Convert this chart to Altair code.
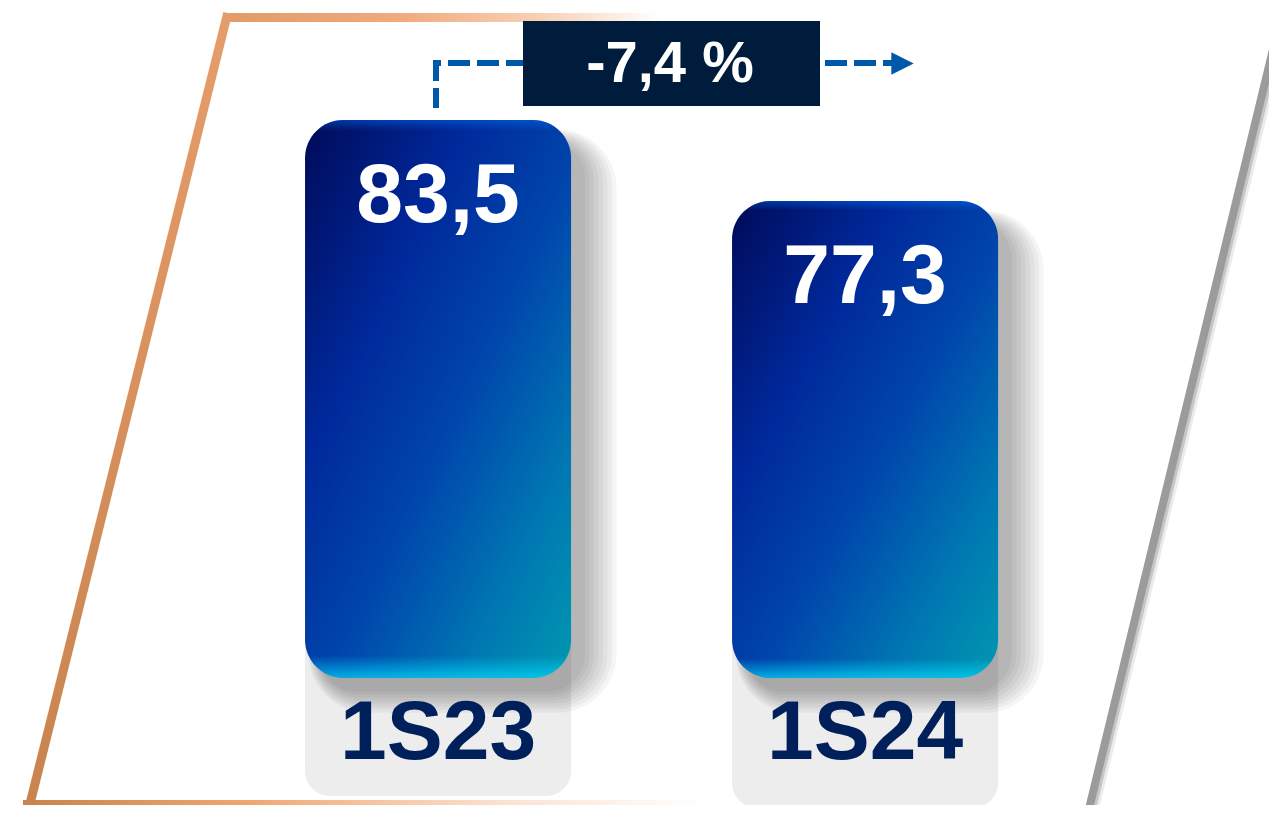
import altair as alt
import pandas as pd

# ---------------- data ----------------
categories = ["1S23", "1S24"]
values = [83.5, 77.3]
change_label = "-7,4 %"

value_labels = [f"{v:.1f}".replace(".", ",") for v in values]
df = pd.DataFrame({"periodo": categories, "valor": values, "etiqueta": value_labels})

W, H = 1261, 797
FONT = "Liberation Sans"
Y_MIN, Y_MAX = 31.07, 92.07          # value axis range (truncated, as in the original)
BASE = 40.8                          # bars start from this axis value

x_enc = alt.X("periodo:N", axis=None, sort=categories,
              scale=alt.Scale(paddingInner=0.377, paddingOuter=0.665, align=0.523))
y_enc = alt.Y("valor:Q", axis=None,
              scale=alt.Scale(domain=[Y_MIN, Y_MAX], zero=False, nice=False))

base = alt.Chart(df)
one = alt.Chart(alt.Data(values=[{"k": 1}]))


def grad(stops, x1=0, y1=0, x2=0, y2=1):
    return {"gradient": "linear", "x1": x1, "y1": y1, "x2": x2, "y2": y2,
            "stops": [{"offset": o, "color": c} for o, c in stops]}


layers = []

# ---------------- frame ----------------
for off, wdt, col in [(7, 6, "#EBEBEB"), (4, 6, "#C6C6C6")]:
    layers.append(one.mark_rule(strokeWidth=wdt, color=col, strokeCap="butt").encode(
        x=alt.value(1269 + off), y=alt.value(25), x2=alt.value(1080 + off), y2=alt.value(805)))
layers.append(one.mark_rule(strokeWidth=8, color="#9B9B9B", strokeCap="butt").encode(
    x=alt.value(1269), y=alt.value(25), x2=alt.value(1080), y2=alt.value(805)))

layers.append(one.mark_rect(fill=grad([(0, "#E39A68"), (0.4, "#F1AA7C"), (0.72, "#F8D0B4"), (1, "#FFFFFF")],
                                      x2=1, y2=0)).encode(
    x=alt.value(215), x2=alt.value(655), y=alt.value(5), y2=alt.value(14)))
layers.append(one.mark_rect(fill=grad([(0, "#C8834F"), (0.33, "#F0A672"), (0.5, "#F6C29E"),
                                       (0.72, "#FBE4D4"), (1, "#FFFFFF")], x2=1, y2=0)).encode(
    x=alt.value(15), x2=alt.value(700), y=alt.value(792), y2=alt.value(805)))
layers.append(one.mark_rule(strokeWidth=9, strokeCap="butt",
                            stroke=grad([(0, "#E59D6B"), (1, "#C8834F")])).encode(
    x=alt.value(219.7), y=alt.value(5), x2=alt.value(19.7), y2=alt.value(805)))

# ---------------- label boxes ----------------
for cat, bottom in [(categories[0], 788), (categories[1], 800)]:
    layers.append(base.transform_filter(alt.datum.periodo == cat).mark_rect(
        fill="#EDEDED", cornerRadius=25).encode(
        x=x_enc, y=alt.value(600), y2=alt.value(bottom)))

# ---------------- bar shadows ----------------
for s in range(0, 24, 3):
    layers.append(base.mark_bar(fill="black", opacity=0.04, cornerRadius=38 + s,
                                width=266 + 2 * s, xOffset=14 + 0.5 * s,
                                yOffset=20 - 0.5 * s, y2Offset=14 + s).encode(
        x=x_enc, y=y_enc, y2=alt.datum(BASE)))

# ---------------- bars ----------------
bar_grad = grad([(0, "#000A58"), (0.3, "#00289A"), (0.55, "#0046AC"), (0.8, "#0078B2"), (1, "#0098B0")],
                x2=1, y2=1)
layers.append(base.mark_bar(fill=bar_grad, cornerRadius=38).encode(
    x=x_enc, y=y_enc, y2=alt.datum(BASE)))
bevel = grad([(0, "rgba(0,120,255,0.4)"), (0.02, "rgba(0,120,255,0)"),
              (0.96, "rgba(0,210,255,0)"), (1, "rgba(0,220,255,0.7)")])
layers.append(base.mark_bar(fill=bevel, cornerRadius=38).encode(
    x=x_enc, y=y_enc, y2=alt.datum(BASE)))

# ---------------- value labels ----------------
layers.append(base.mark_text(font=FONT, fontSize=84, fontWeight="bold", color="white",
                             baseline="alphabetic", align="center", dy=102).encode(
    x=x_enc, y=y_enc, text="etiqueta:N"))

# ---------------- category labels ----------------
layers.append(base.mark_text(font=FONT, fontSize=84, fontWeight="bold", color="#00205B",
                             baseline="alphabetic", align="center").encode(
    x=x_enc, y=alt.value(751), text="periodo:N"))

# ---------------- change annotation ----------------
arrow_col = "#0059A8"
layers.append(one.mark_rule(strokeWidth=6, color=arrow_col, strokeDash=[21, 7], strokeCap="butt").encode(
    x=alt.value(428), y=alt.value(52), y2=alt.value(100)))
layers.append(one.mark_rule(strokeWidth=6, color=arrow_col, strokeDash=[22, 7], strokeDashOffset=14,
                            strokeCap="butt").encode(
    x=alt.value(425), x2=alt.value(884), y=alt.value(55)))
layers.append(one.mark_point(shape="M-1,-1L1,0L-1,1Z", size=500, filled=True, opacity=1,
                             color=arrow_col).encode(x=alt.value(894.5), y=alt.value(55.5)))
layers.append(one.mark_rect(fill="#001C3D").encode(
    x=alt.value(515), x2=alt.value(812), y=alt.value(13), y2=alt.value(98)))
layers.append(one.mark_text(font=FONT, fontSize=58, fontWeight="bold", color="white",
                            baseline="alphabetic", align="center").encode(
    x=alt.value(662), y=alt.value(74), text=alt.value(change_label)))

chart = alt.layer(*layers).properties(
    width=W, height=H, padding=0, background="white",
    autosize=alt.AutoSizeParams(type="none"),
).configure_view(stroke=None)

chart.save("out.html", embed_options={"renderer": "svg", "actions": False})
